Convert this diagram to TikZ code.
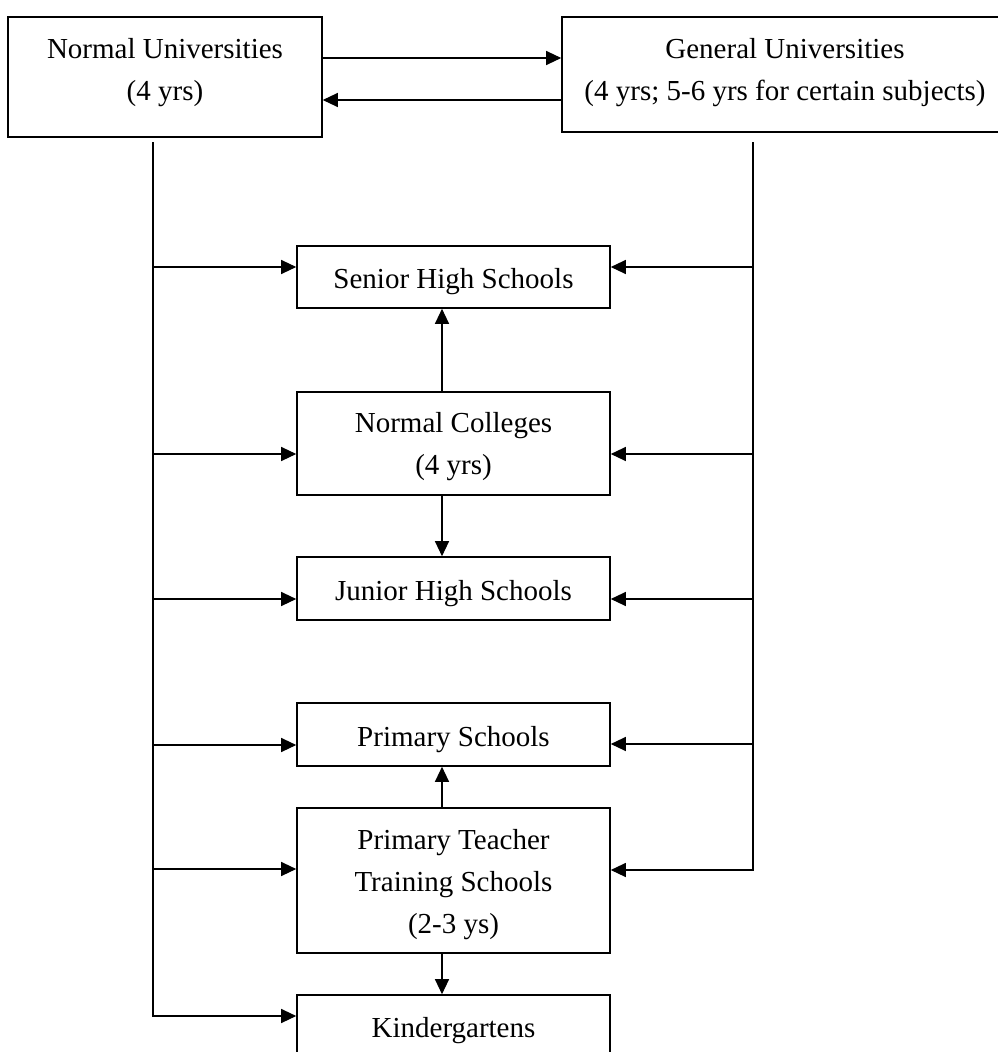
\documentclass[tikz,border=0pt]{standalone}
\usepackage{fontspec}
\setmainfont{Liberation Serif}
\usetikzlibrary{arrows.meta}
\begin{document}
\begin{tikzpicture}[x=1pt,y=-1pt,
  box/.style={draw, line width=1.6pt, rectangle, inner sep=0pt, align=center,
    minimum width=313pt, font=\fontsize{29}{42}\selectfont},
  single/.style={box, text height=30pt},
  conn/.style={line width=1.2pt},
  arr/.style={conn, -{Triangle[length=15pt,width=14pt]}}]
\useasboundingbox (0,0) rectangle (998,1052);
\clip (0,0) rectangle (998,1052);
% top boxes
\node[box, minimum width=314pt, minimum height=120pt, text height=52.3pt] (nu) at (165,77) {Normal Universities\\(4 yrs)};
\node[box, minimum width=446pt, minimum height=115pt, text height=57.3pt] (gu) at (785,74.5) {General Universities\\(4 yrs; 5-6 yrs for certain subjects)};
% school boxes
\node[single, minimum height=62pt] (shs) at (453.5,277) {Senior High Schools};
\node[box, minimum height=103pt, text height=67.3pt] (nc) at (453.5,443.5) {Normal Colleges\\(4 yrs)};
\node[single, minimum height=63pt] (jhs) at (453.5,588.5) {Junior High Schools};
\node[single, minimum height=63pt] (ps) at (453.5,734.5) {Primary Schools};
\node[box, minimum height=145pt, text height=111.3pt] (ptt) at (453.5,880.5) {Primary Teacher\\Training Schools\\(2-3 ys)};
\node[single, minimum height=62pt] (kg) at (453.5,1026) {Kindergartens};
% arrows between universities
\coordinate (ua) at (322,58);
\coordinate (ub) at (322,100);
\draw[arr] (ua -| nu.east) -- (ua -| gu.west);
\draw[arr] (ub -| gu.west) -- (ub -| nu.east);
% vertical arrows from colleges
\draw[arr] ([xshift=-11.5pt]nc.north) -- ([xshift=-11.5pt]shs.south);
\draw[arr] ([xshift=-11.5pt]nc.south) -- ([xshift=-11.5pt]jhs.north);
\draw[arr] ([xshift=-11.5pt]ptt.north) -- ([xshift=-11.5pt]ps.south);
\draw[arr] ([xshift=-11.5pt]ptt.south) -- ([xshift=-11.5pt]kg.north);
% left bus from Normal Universities
\coordinate (ltop) at (153,142);
\coordinate (l1) at (153,267);
\coordinate (l2) at (153,454);
\coordinate (l3) at (153,599);
\coordinate (l4) at (153,745);
\coordinate (l5) at (153,869);
\coordinate (l6) at (153,1016);
\draw[arr] (ltop) -- (l6) -- (l6 -| kg.west);
\draw[arr] (l1) -- (l1 -| shs.west);
\draw[arr] (l2) -- (l2 -| nc.west);
\draw[arr] (l3) -- (l3 -| jhs.west);
\draw[arr] (l4) -- (l4 -| ps.west);
\draw[arr] (l5) -- (l5 -| ptt.west);
% right bus from General Universities
\coordinate (rtop) at (753,142);
\coordinate (r1) at (753,267);
\coordinate (r2) at (753,454);
\coordinate (r3) at (753,599);
\coordinate (r4) at (753,744);
\coordinate (r5) at (753,870);
\draw[arr] (rtop) -- (r5) -- (r5 -| ptt.east);
\draw[arr] (r1) -- (r1 -| shs.east);
\draw[arr] (r2) -- (r2 -| nc.east);
\draw[arr] (r3) -- (r3 -| jhs.east);
\draw[arr] (r4) -- (r4 -| ps.east);
\end{tikzpicture}
\end{document}
